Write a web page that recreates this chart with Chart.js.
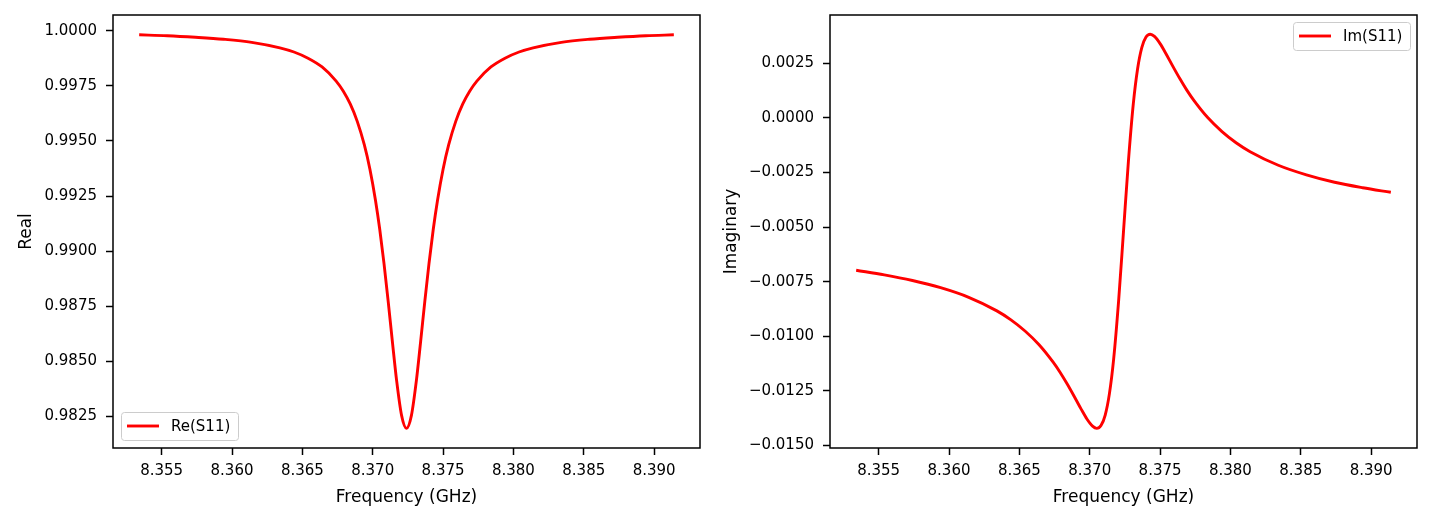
<!DOCTYPE html>
<html>
<head>
<meta charset="utf-8">
<script src="https://cdn.jsdelivr.net/npm/chart.js@4/dist/chart.umd.min.js"></script>
<style>
  html, body { margin: 0; padding: 0; background: #fff; }
  #wrap { position: relative; width: 1433px; height: 521px; }
  canvas { position: absolute; top: 0; }
  #graficoRe { left: 0; }
  #graficoIm { left: 716px; }
</style>
</head>
<body>
<div id="wrap">
  <canvas id="graficoRe" width="716" height="521"></canvas>
  <canvas id="graficoIm" width="717" height="521"></canvas>
</div>
<script>
// frequencies in GHz (denser around the resonance)
const frequencies = [
  8.3534, 8.3554, 8.3574, 8.3594, 8.3614, 8.3634, 8.3644, 8.3654, 8.3664, 8.3674,
  8.3679, 8.3684, 8.3689, 8.3694, 8.3698, 8.3702, 8.3705, 8.3708, 8.3711, 8.3714,
  8.3717, 8.37205, 8.3724, 8.37275, 8.3731, 8.3734, 8.3737, 8.3740, 8.3743, 8.3746,
  8.3750, 8.3754, 8.3759, 8.3764, 8.3769, 8.3774, 8.3784, 8.3794, 8.3804, 8.3814,
  8.3834, 8.3854, 8.3874, 8.3894, 8.3914
];

const reS11 = [
  0.99982, 0.99978, 0.99971, 0.99962, 0.99948, 0.99923, 0.99904, 0.99876, 0.99836, 0.99772,
  0.99727, 0.99668, 0.99589, 0.99483, 0.99372, 0.99229, 0.99098, 0.98944, 0.98771, 0.98587,
  0.98411, 0.98254, 0.98195, 0.98254, 0.98411, 0.98587, 0.98771, 0.98944, 0.99098, 0.99229,
  0.99372, 0.99483, 0.99589, 0.99668, 0.99727, 0.99772, 0.99836, 0.99876, 0.99904, 0.99923,
  0.99948, 0.99962, 0.99971, 0.99978, 0.99982
];

const imS11 = [
  -0.00698, -0.00719, -0.00745, -0.00778, -0.00822, -0.00884, -0.00925, -0.00976, -0.01039, -0.01119,
  -0.01166, -0.01219, -0.01276, -0.01335, -0.01379, -0.01412, -0.01422, -0.01409, -0.01361, -0.01263,
  -0.01105, -0.00841, -0.00520, -0.00198, 0.00066, 0.00224, 0.00322, 0.00370, 0.00383, 0.00373,
  0.00340, 0.00296, 0.00237, 0.00180, 0.00127, 0.00080, 0.00000, -0.00063, -0.00114, -0.00155,
  -0.00217, -0.00261, -0.00295, -0.00320, -0.00341
];

const freqTicks = [8.355, 8.360, 8.365, 8.370, 8.375, 8.380, 8.385, 8.390];
const reTicks = [0.9825, 0.9850, 0.9875, 0.9900, 0.9925, 0.9950, 0.9975, 1.0000];
const imTicks = [-0.0150, -0.0125, -0.0100, -0.0075, -0.0050, -0.0025, 0.0000, 0.0025];

const FONT = 'DejaVu Sans';

const fmt = (v, d) => {
    const s = Math.abs(v) < 1e-9 ? (0).toFixed(d) : v.toFixed(d);
    return s.replace('-', '\u2212');
};

// axes frame and the matplotlib-like legend drawn inside the plot area
const marco = {
    id: 'marco',
    afterDraw(chart, args, opts) {
        const { ctx, chartArea: a } = chart;
        ctx.save();
        ctx.strokeStyle = '#000';
        ctx.lineWidth = 1.5;
        ctx.strokeRect(a.left, a.top, a.right - a.left, a.bottom - a.top);

        const ds = chart.data.datasets[0];
        ctx.font = `15px "${FONT}"`;
        const w = Math.round(50 + ctx.measureText(ds.label).width + 8);
        const h = 28;
        let x, y;
        if (opts.corner === 'lower left') {
            x = a.left + 8;
            y = a.bottom - 8 - h;
        } else {
            x = a.right - 7 - w;
            y = a.top + 7;
        }
        ctx.beginPath();
        ctx.roundRect(x + 0.5, y + 0.5, w, h, 3);
        ctx.fillStyle = 'rgba(255,255,255,0.8)';
        ctx.fill();
        ctx.strokeStyle = '#cccccc';
        ctx.lineWidth = 1;
        ctx.stroke();

        ctx.beginPath();
        ctx.moveTo(x + 6, y + h / 2);
        ctx.lineTo(x + 38, y + h / 2);
        ctx.strokeStyle = ds.borderColor;
        ctx.lineWidth = ds.borderWidth;
        ctx.stroke();

        ctx.fillStyle = '#000';
        ctx.textBaseline = 'middle';
        ctx.textAlign = 'left';
        ctx.fillText(ds.label, x + 50, y + h / 2 + 1);
        ctx.restore();
    }
};

const crearGrafico = (id, label, values, yMin, yMax, yTicks, yTitle, yWidth, titlePad, corner) => {
    const ctx = document.getElementById(id).getContext('2d');
    return new Chart(ctx, {
        type: 'line',
        data: {
            datasets: [{
                label: label,
                data: frequencies.map((f, i) => ({ x: f, y: values[i] })),
                borderColor: '#ff0000',
                borderWidth: 2.9,
                pointRadius: 0,
                fill: false,
                cubicInterpolationMode: 'monotone'
            }]
        },
        options: {
            responsive: false,
            animation: false,
            devicePixelRatio: 1,
            layout: { padding: { left: 0, right: 16, top: 15, bottom: 0 } },
            scales: {
                x: {
                    type: 'linear',
                    min: 8.35154,
                    max: 8.39326,
                    afterBuildTicks: s => { s.ticks = freqTicks.map(v => ({ value: v })); },
                    afterFit: s => { s.height = 73; s.paddingLeft = 0; s.paddingRight = 0; },
                    grid: { drawOnChartArea: false, drawTicks: true, tickLength: 7, tickWidth: 1.5, tickColor: '#000' },
                    border: { display: false },
                    ticks: {
                        font: { family: FONT, size: 15 },
                        color: '#000',
                        padding: 7,
                        maxRotation: 0,
                        autoSkip: false,
                        callback: v => fmt(v, 3)
                    },
                    title: {
                        display: true,
                        text: 'Frequency (GHz)',
                        font: { family: FONT, size: 17 },
                        color: '#000',
                        padding: { top: 0, bottom: 13 }
                    }
                },
                y: {
                    type: 'linear',
                    min: yMin,
                    max: yMax,
                    afterBuildTicks: s => { s.ticks = yTicks.map(v => ({ value: v })); },
                    afterFit: s => { s.width = yWidth; s.paddingTop = 0; s.paddingBottom = 0; },
                    grid: { drawOnChartArea: false, drawTicks: true, tickLength: 7, tickWidth: 1.5, tickColor: '#000' },
                    border: { display: false },
                    ticks: {
                        font: { family: FONT, size: 15 },
                        color: '#000',
                        padding: 9,
                        autoSkip: false,
                        callback: v => fmt(v, 4)
                    },
                    title: {
                        display: true,
                        text: yTitle,
                        font: { family: FONT, size: 17 },
                        color: '#000',
                        padding: { top: titlePad, bottom: 0 }
                    }
                }
            },
            plugins: {
                legend: { display: false },
                tooltip: { enabled: false },
                marco: { corner: corner }
            }
        },
        plugins: [marco]
    });
};

crearGrafico('graficoRe', 'Re(S11)', reS11, 0.98106, 1.00072, reTicks, 'Real', 113, 16, 'lower left');
crearGrafico('graficoIm', 'Im(S11)', imS11, -0.01512, 0.00471, imTicks, 'Imaginary', 114, 5, 'upper right');
</script>
</body>
</html>
